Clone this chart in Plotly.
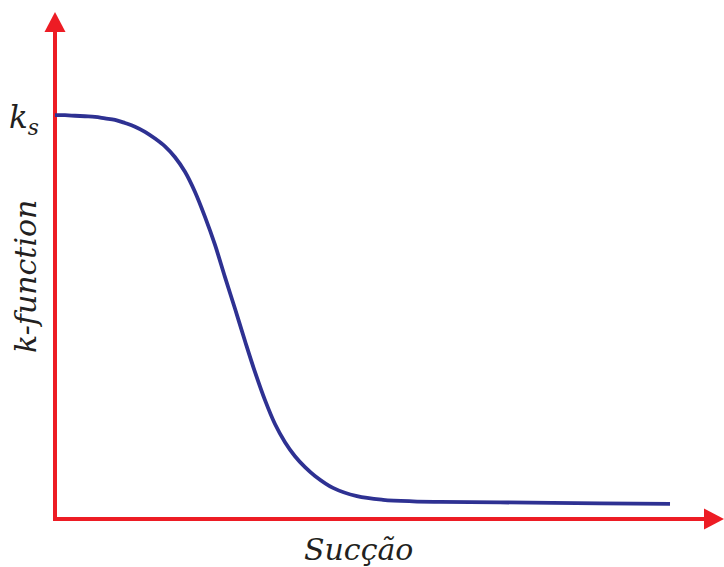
import plotly.graph_objects as go

# Data (suction in arbitrary units 0-100, k relative to 1)
suction = [0.0, 1.49, 2.99, 4.48, 5.98, 7.47, 8.97, 10.46, 11.96, 13.45, 14.95,
           16.44, 17.94, 19.43, 20.93, 22.42, 23.92, 25.41, 26.91, 28.40, 29.90,
           31.39, 32.88, 34.38, 35.87, 37.37, 38.86, 41.55, 45.14, 49.03, 53.51,
           57.55, 66.52, 81.46, 91.93]
k_value = [0.778, 0.778, 0.777, 0.776, 0.775, 0.772, 0.769, 0.763, 0.756, 0.746, 0.733,
           0.718, 0.697, 0.669, 0.630, 0.582, 0.528, 0.466, 0.405, 0.343, 0.283,
           0.229, 0.183, 0.148, 0.121, 0.100, 0.083, 0.060, 0.044, 0.037, 0.034,
           0.033, 0.032, 0.030, 0.029]

W, H = 724, 567
ML, MR, MT, MB = 40, 0, 0, 0
X0PX, Y0PX = 55, 519          # pixel of data origin
XPX = (724 - X0PX) / 100.0    # px per x unit
YPX = 519.0                   # px per y unit
xr = [(ML - X0PX) / XPX, 100]
yr = [-(H - MB - Y0PX) / YPX, (Y0PX - MT) / YPX]

RED = "#ed1c24"
BLUE = "#2e3192"

fig = go.Figure()
fig.add_trace(go.Scatter(x=suction, y=k_value, mode="lines",
                         line=dict(color=BLUE, width=3.8, shape="spline", smoothing=1.0),
                         hoverinfo="skip", showlegend=False))

# axes lines and arrowheads
ytip = (Y0PX - 12) / YPX
ybase = (Y0PX - 32) / YPX
hw_x = 10.5 / XPX
xbase = 100 - 20 / XPX
hw_y = 10.5 / YPX
shapes = [
    dict(type="line", x0=0, x1=0, y0=-2 / YPX, y1=ybase + 0.005, xref="x", yref="y",
         line=dict(color=RED, width=4), layer="below"),
    dict(type="line", x0=-2 / XPX, x1=xbase + 0.3, y0=0, y1=0, xref="x", yref="y",
         line=dict(color=RED, width=4)),
    dict(type="path", xref="x", yref="y",
         path=f"M {-hw_x} {ybase} L {hw_x} {ybase} L 0 {ytip} Z",
         fillcolor=RED, line=dict(width=0)),
    dict(type="path", xref="x", yref="y",
         path=f"M {xbase} {-hw_y} L {xbase} {hw_y} L 100 0 Z",
         fillcolor=RED, line=dict(width=0)),
]

FONT = "DejaVu Serif"
PW, PH = W - ML - MR, H - MB - MT
annotations = [
    dict(text="<i>k<sub>s</sub></i>", x=(24 - ML) / PW, y=(H - MB - 119) / PH,
         xref="paper", yref="paper", showarrow=False, xanchor="center", yanchor="middle",
         font=dict(family=FONT, size=31, color="#231f20")),
    dict(text="<i>k-function</i>", x=(25 - ML) / PW, y=(H - MB - 277) / PH,
         xref="paper", yref="paper", showarrow=False, textangle=-90,
         xanchor="center", yanchor="middle",
         font=dict(family=FONT, size=30, color="#231f20")),
    dict(text="<i>Sucção</i>", x=(358 - ML) / PW, y=(H - MB - 549) / PH,
         xref="paper", yref="paper", showarrow=False, xanchor="center", yanchor="middle",
         font=dict(family=FONT, size=30, color="#231f20")),
]

fig.update_layout(
    width=W, height=H,
    margin=dict(l=ML, r=MR, t=MT, b=MB, pad=0),
    paper_bgcolor="white", plot_bgcolor="white",
    xaxis=dict(range=xr, visible=False, fixedrange=True),
    yaxis=dict(range=yr, visible=False, fixedrange=True),
    shapes=shapes, annotations=annotations,
)
fig.write_html("out.html", config={"displayModeBar": False},
               post_script="document.body.style.margin='0';document.body.style.overflow='hidden';")
